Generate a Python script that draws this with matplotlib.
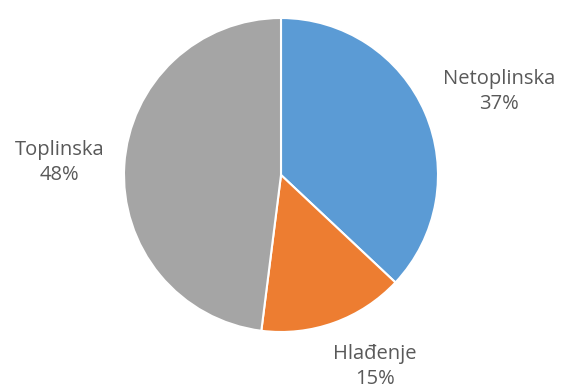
import matplotlib.pyplot as plt

labels = ['Netoplinska', 'Hlađenje', 'Toplinska']
shares = [37, 15, 48]
colors = ['#5B9BD5', '#ED7D31', '#A5A5A5']
# label anchor points in axes data units (pie radius = 1)
label_xy = [(1.39, 0.53), (0.60, -1.22), (-1.41, 0.08)]

W, H = 566, 390
cx, cy, r = 281, 175, 157

fig = plt.figure(figsize=(W / 100, H / 100), dpi=100)
ax = fig.add_axes([(cx - r) / W, (H - cy - r) / H, 2 * r / W, 2 * r / H])
ax.pie(shares, colors=colors, startangle=90, counterclock=False, radius=1,
       wedgeprops=dict(edgecolor='white', linewidth=1.5))
ax.set_xlim(-1, 1)
ax.set_ylim(-1, 1)
ax.set_aspect('equal')
ax.axis('off')

for name, val, (x, y) in zip(labels, shares, label_xy):
    ax.text(x, y, f'{name}\n{val}%', ha='center', va='center', fontsize=14.5,
            color='#595959', family='Open Sans', linespacing=1.35, clip_on=False)

fig.savefig('out.png', dpi=100)
